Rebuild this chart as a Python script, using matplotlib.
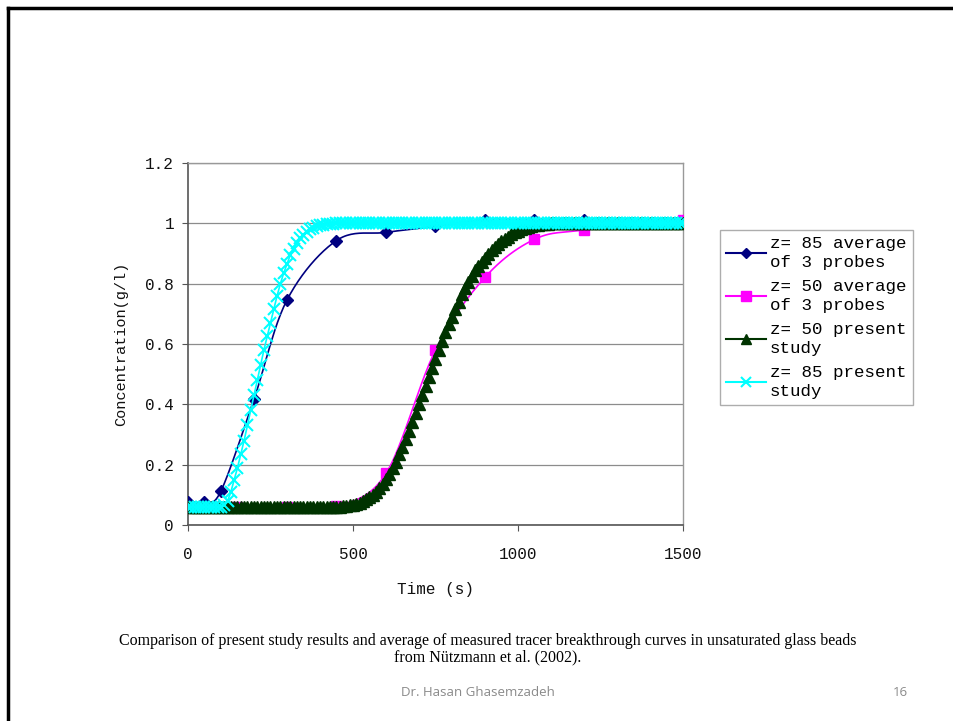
import numpy as np
import matplotlib
matplotlib.use('Agg')
from matplotlib import pyplot as plt
from matplotlib.lines import Line2D

# measured averages (Nuetzmann et al. 2002)
t_z85_avg = [0, 50, 100, 200, 300, 450, 600, 750, 900, 1050, 1200]
c_z85_avg = [0.075, 0.075, 0.113, 0.417, 0.746, 0.943, 0.970, 0.990, 1.012, 1.012, 1.012]
t_z50_avg = [0, 150, 300, 450, 600, 750, 900, 1050, 1200, 1500]
c_z50_avg = [0.061, 0.06, 0.06, 0.062, 0.171, 0.580, 0.821, 0.947, 0.978, 1.011]

# present study, 10 s steps from 0 to 1500 s
t_model = np.arange(0, 1501, 10)
c_z85_model = ([0.06] * 11 +
               [0.065, 0.08, 0.11, 0.15, 0.19, 0.235, 0.28, 0.33, 0.38, 0.43,
                0.48, 0.53, 0.58, 0.625, 0.67, 0.715, 0.76, 0.80, 0.835, 0.865,
                0.895, 0.915, 0.935, 0.95, 0.962, 0.972, 0.98, 0.986, 0.99, 0.993,
                0.995, 0.997, 0.998, 0.999] +
               [1.0] * 106)
c_z50_model = ([0.06] * 46 +
               [0.061, 0.062, 0.063, 0.065, 0.067, 0.07, 0.074, 0.079, 0.085, 0.092,
                0.10, 0.11, 0.122, 0.136, 0.152, 0.17, 0.19, 0.21, 0.235, 0.26,
                0.285, 0.31, 0.34, 0.37, 0.40, 0.43, 0.46, 0.49, 0.52, 0.55,
                0.58, 0.61, 0.64, 0.665, 0.69, 0.715, 0.74, 0.765, 0.785, 0.805,
                0.825, 0.845, 0.86, 0.873, 0.885, 0.898, 0.91, 0.92, 0.93, 0.94,
                0.948, 0.956, 0.963, 0.97, 0.976, 0.981, 0.985, 0.989, 0.992, 0.994,
                0.996, 0.997, 0.998, 0.999] +
               [1.0] * 41)

labels = ['z= 85 average\nof 3 probes', 'z= 50 average\nof 3 probes',
          'z= 50 present\nstudy', 'z= 85 present\nstudy']

mono = 'Liberation Mono'


def smooth(x, y, n=25):
    # excel-like smoothed line (bezier through the points)
    p = np.column_stack([x, y]).astype(float)
    out = [p[0]]
    for i in range(len(p) - 1):
        p0 = p[i - 1] if i > 0 else p[i]
        p1, p2 = p[i], p[i + 1]
        p3 = p[i + 2] if i + 2 < len(p) else p[i + 1]
        c1 = p1 + (p2 - p0) / 6
        c2 = p2 - (p3 - p1) / 6
        s = np.linspace(0, 1, n)[1:, None]
        seg = (1 - s)**3 * p1 + 3 * (1 - s)**2 * s * c1 + 3 * (1 - s) * s**2 * c2 + s**3 * p2
        out.extend(seg)
    out = np.array(out)
    return out[:, 0], out[:, 1]


fig = plt.figure(figsize=(9.54, 7.21), dpi=100)
ax = fig.add_axes([188 / 954, 1 - 525 / 721, 495 / 954, 362 / 721])

sx, sy = smooth(t_z85_avg, c_z85_avg)
ax.plot(sx, sy, color='#000080', lw=1.2, zorder=3)
ax.plot(t_z85_avg, c_z85_avg, ls='none', marker='D', ms=6, color='#000080', zorder=3)

sx, sy = smooth(t_z50_avg, c_z50_avg)
ax.plot(sx, sy, color='#FF00FF', lw=1.2, zorder=4)
ax.plot(t_z50_avg, c_z50_avg, ls='none', marker='s', ms=6.5, color='#FF00FF', zorder=4)

ax.plot(t_model, c_z50_model, color='#003300', lw=1.2, marker='^', ms=8.5, zorder=5)
ax.plot(t_model, c_z85_model, color='#00FFFF', lw=1.2, marker='x', ms=8,
        mew=1.5, zorder=6)

ax.set_xlim(0, 1500)
ax.set_ylim(0, 1.2)
ax.set_xticks([0, 500, 1000, 1500])
ax.set_yticks([0, 0.2, 0.4, 0.6, 0.8, 1.0, 1.2])
ax.set_yticklabels(['0', '0.2', '0.4', '0.6', '0.8', '1', '1.2'])
ax.yaxis.grid(True, color='#8c8c8c', lw=0.9)
ax.set_axisbelow(True)
for sp in ['left', 'bottom']:
    ax.spines[sp].set_color('#555555')
    ax.spines[sp].set_linewidth(1.2)
for sp in ['top', 'right']:
    ax.spines[sp].set_color('#999999')
    ax.spines[sp].set_linewidth(1.0)
ax.tick_params(axis='both', labelsize=11.5, length=4, color='#555555', labelcolor='#111111')
ax.tick_params(axis='x', pad=12)
ax.tick_params(axis='y', pad=6)
for lab in ax.get_xticklabels() + ax.get_yticklabels():
    lab.set_family(mono)
ax.set_xlabel('Time (s)', family=mono, fontsize=11.5, labelpad=14, color='#111111')
ax.set_ylabel('Concentration(g/l)', family=mono, fontsize=11, labelpad=12, color='#111111')

handles = [Line2D([], [], color='#000080', marker='D', ms=5),
           Line2D([], [], color='#FF00FF', marker='s', ms=7),
           Line2D([], [], color='#003300', marker='^', ms=7),
           Line2D([], [], color='#00FFFF', marker='x', ms=7, mew=1.5)]
leg = fig.legend(handles, labels, loc='upper left', bbox_to_anchor=(720 / 954, 1 - 230 / 721),
                 prop={'family': mono, 'size': 12.6}, frameon=True, fancybox=False,
                 edgecolor='#999999', handlelength=2.3, handletextpad=0.2,
                 labelspacing=0.5, borderpad=0.35, borderaxespad=0)
leg.get_frame().set_linewidth(1.0)
for txt in leg.get_texts():
    txt.set_linespacing(1.35)

fig.text(488 / 954, 1 - 641 / 721,
         'Comparison of present study results and average of measured tracer breakthrough curves in unsaturated glass beads',
         ha='center', va='center', family='Liberation Serif', fontsize=11.5)
fig.text(488 / 954, 1 - 657 / 721, 'from Nützmann et al. (2002).',
         ha='center', va='center', family='Liberation Serif', fontsize=11.5)
fig.text(478 / 954, 1 - 692 / 721, 'Dr. Hasan Ghasemzadeh', ha='center', va='center',
         family='Open Sans', fontsize=9.5, color='#8a8a8a')
fig.text(900 / 954, 1 - 692 / 721, '16', ha='center', va='center',
         family='Open Sans', fontsize=9.5, color='#8a8a8a')

# slide border (top and left edge)
fig.add_artist(Line2D([8 / 954, 1], [1 - 8 / 721, 1 - 8 / 721], color='black', lw=2.5,
                      transform=fig.transFigure))
fig.add_artist(Line2D([8 / 954, 8 / 954], [0, 1 - 8 / 721], color='black', lw=2.5,
                      transform=fig.transFigure))

fig.savefig('out.png', dpi=100)
